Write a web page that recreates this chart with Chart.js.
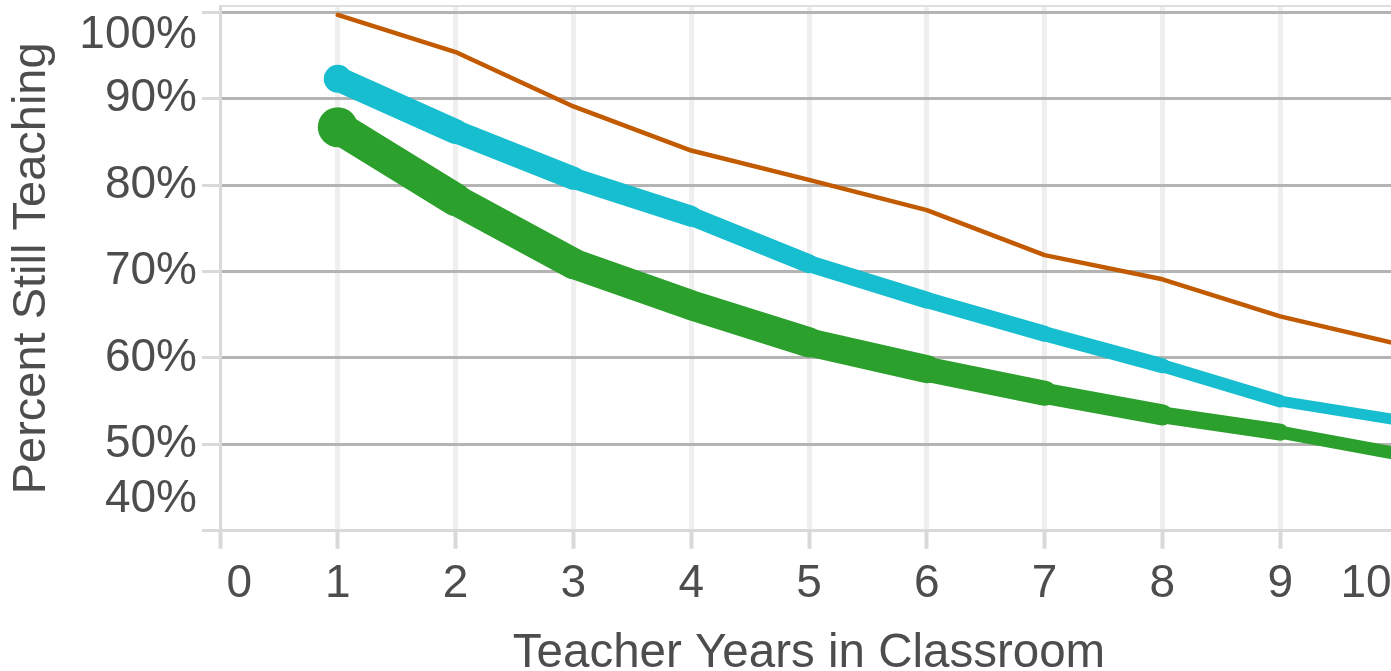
<!DOCTYPE html>
<html><head><meta charset="utf-8">
<script src="https://cdn.jsdelivr.net/npm/chart.js@4/dist/chart.umd.min.js"></script>
<style>
html,body{margin:0;padding:0;background:#fff;overflow:hidden;width:1391px;height:671px}
#wrap{position:absolute;left:0;top:0;width:1398px;height:671px}
</style>
</head><body><div id="wrap"><canvas id="c" width="1398" height="671"></canvas></div>
<script>
const years = [1, 2, 3, 4, 5, 6, 7, 8, 9, 10];
const xTicks = [0, 1, 2, 3, 4, 5, 6, 7, 8, 9, 10];
const yTicks = [40, 50, 60, 70, 80, 90, 100];
const orangeSeries = [99.7, 95.4, 89.1, 84.0, 80.6, 77.1, 71.9, 69.1, 64.8, 61.6];
const cyanSeries   = [92.3, 86.2, 80.8, 76.4, 70.9, 66.7, 62.8, 59.1, 55.0, 52.8];
const greenSeries  = [86.7, 78.3, 70.9, 66.1, 61.8, 58.7, 55.9, 53.4, 51.4, 48.9];

// line-width styling per segment (visual style only)
const greenWidths = [33, 31, 30, 30, 28, 25, 21, 17, 13];
const cyanWidths  = [25, 23, 21, 19, 17, 16, 15, 13, 11];

const FONT = "'Liberation Sans', Arial, sans-serif";
const TXT = '#4d4d4d';
const pts = arr => years.map((x, i) => ({x, y: arr[i]}));

const panelTop = {
  id: 'panelTop',
  beforeDatasetsDraw(chart) {
    const {ctx, chartArea} = chart;
    ctx.save();
    ctx.strokeStyle = '#dedede';
    ctx.lineWidth = 2;
    ctx.beginPath();
    ctx.moveTo(chartArea.left, chartArea.top);
    ctx.lineTo(chartArea.right, chartArea.top);
    ctx.stroke();
    ctx.restore();
  }
};

new Chart(document.getElementById('c'), {
  type: 'line',
  data: {
    datasets: [
      {
        data: pts(orangeSeries), borderColor: '#c25a00', borderWidth: 4.5,
        pointRadius: 0, tension: 0, borderCapStyle: 'round', borderJoinStyle: 'round'
      },
      {
        data: pts(cyanSeries), borderColor: '#17becf', borderWidth: 20,
        pointRadius: ctx => ctx.dataIndex === 0 ? 14 : 0, pointBorderWidth: 0,
        pointBackgroundColor: '#17becf',
        tension: 0, borderCapStyle: 'round', borderJoinStyle: 'round',
        segment: { borderWidth: ctx => cyanWidths[ctx.p0DataIndex] }
      },
      {
        data: pts(greenSeries), borderColor: '#2ca02c', borderWidth: 25,
        pointRadius: ctx => ctx.dataIndex === 0 ? 20 : 0, pointBorderWidth: 0,
        pointBackgroundColor: '#2ca02c',
        tension: 0, borderCapStyle: 'round', borderJoinStyle: 'round',
        segment: { borderWidth: ctx => greenWidths[ctx.p0DataIndex] }
      }
    ]
  },
  options: {
    responsive: false,
    animation: false,
    devicePixelRatio: 1,
    layout: { autoPadding: false, padding: { top: 6, left: 0, right: 0, bottom: 0 } },
    plugins: { legend: { display: false }, tooltip: { enabled: false } },
    scales: {
      x: {
        type: 'linear', min: 0, max: 10,
        afterBuildTicks: s => { s.ticks = xTicks.map(v => ({value: v})); },
        afterFit: s => { s.height = 140.3; s.paddingLeft = 0; s.paddingRight = 0; },
        grid: {
          color: ctx => (ctx.tick && ctx.tick.value === 0) ? 'rgba(0,0,0,0)' : '#efefef',
          lineWidth: 5, tickColor: '#d9d9d9', tickLength: 18, tickWidth: 4
        },
        border: { display: true, color: '#d9d9d9', width: 3 },
        ticks: {
          autoSkip: false, maxRotation: 0, padding: 13, color: TXT,
          font: { family: FONT, size: 46, lineHeight: 1.0 },
          callback: v => v === 10 ? '10     ' : (v === 0 ? '   0' : String(v))
        },
        title: {
          display: true, text: 'Teacher Years in Classroom', color: TXT,
          font: { family: FONT, size: 47.5, lineHeight: 0.7 }, padding: { top: 0, bottom: 0 }
        }
      },
      y: {
        type: 'linear', min: 40, max: 100.73,
        afterBuildTicks: s => { s.ticks = yTicks.map(v => ({value: v})); },
        afterFit: s => { s.width = 220; s.paddingTop = 0; s.paddingBottom = 0; },
        grid: {
          color: ctx => (ctx.tick && ctx.tick.value === 40) ? 'rgba(0,0,0,0)' : '#b4b4b4',
          lineWidth: 3, tickColor: '#d9d9d9', tickLength: 18, tickWidth: 3
        },
        border: { display: true, color: '#d9d9d9', width: 3 },
        ticks: {
          autoSkip: false, padding: 5, color: TXT,
          font: ctx => ({ family: FONT, size: 46,
            lineHeight: (ctx.tick && ctx.tick.value === 40) ? 1.35 : 1.0 }),
          callback: v => v === 100 ? ['', '100%'] : (v === 40 ? ['40%', ''] : v + '%')
        },
        title: {
          display: true, text: 'Percent Still Teaching', color: TXT,
          font: { family: FONT, size: 47, lineHeight: 1.0 }, padding: { top: 9, bottom: 0 }
        }
      }
    }
  },
  plugins: [panelTop]
});
</script>
</body></html>
